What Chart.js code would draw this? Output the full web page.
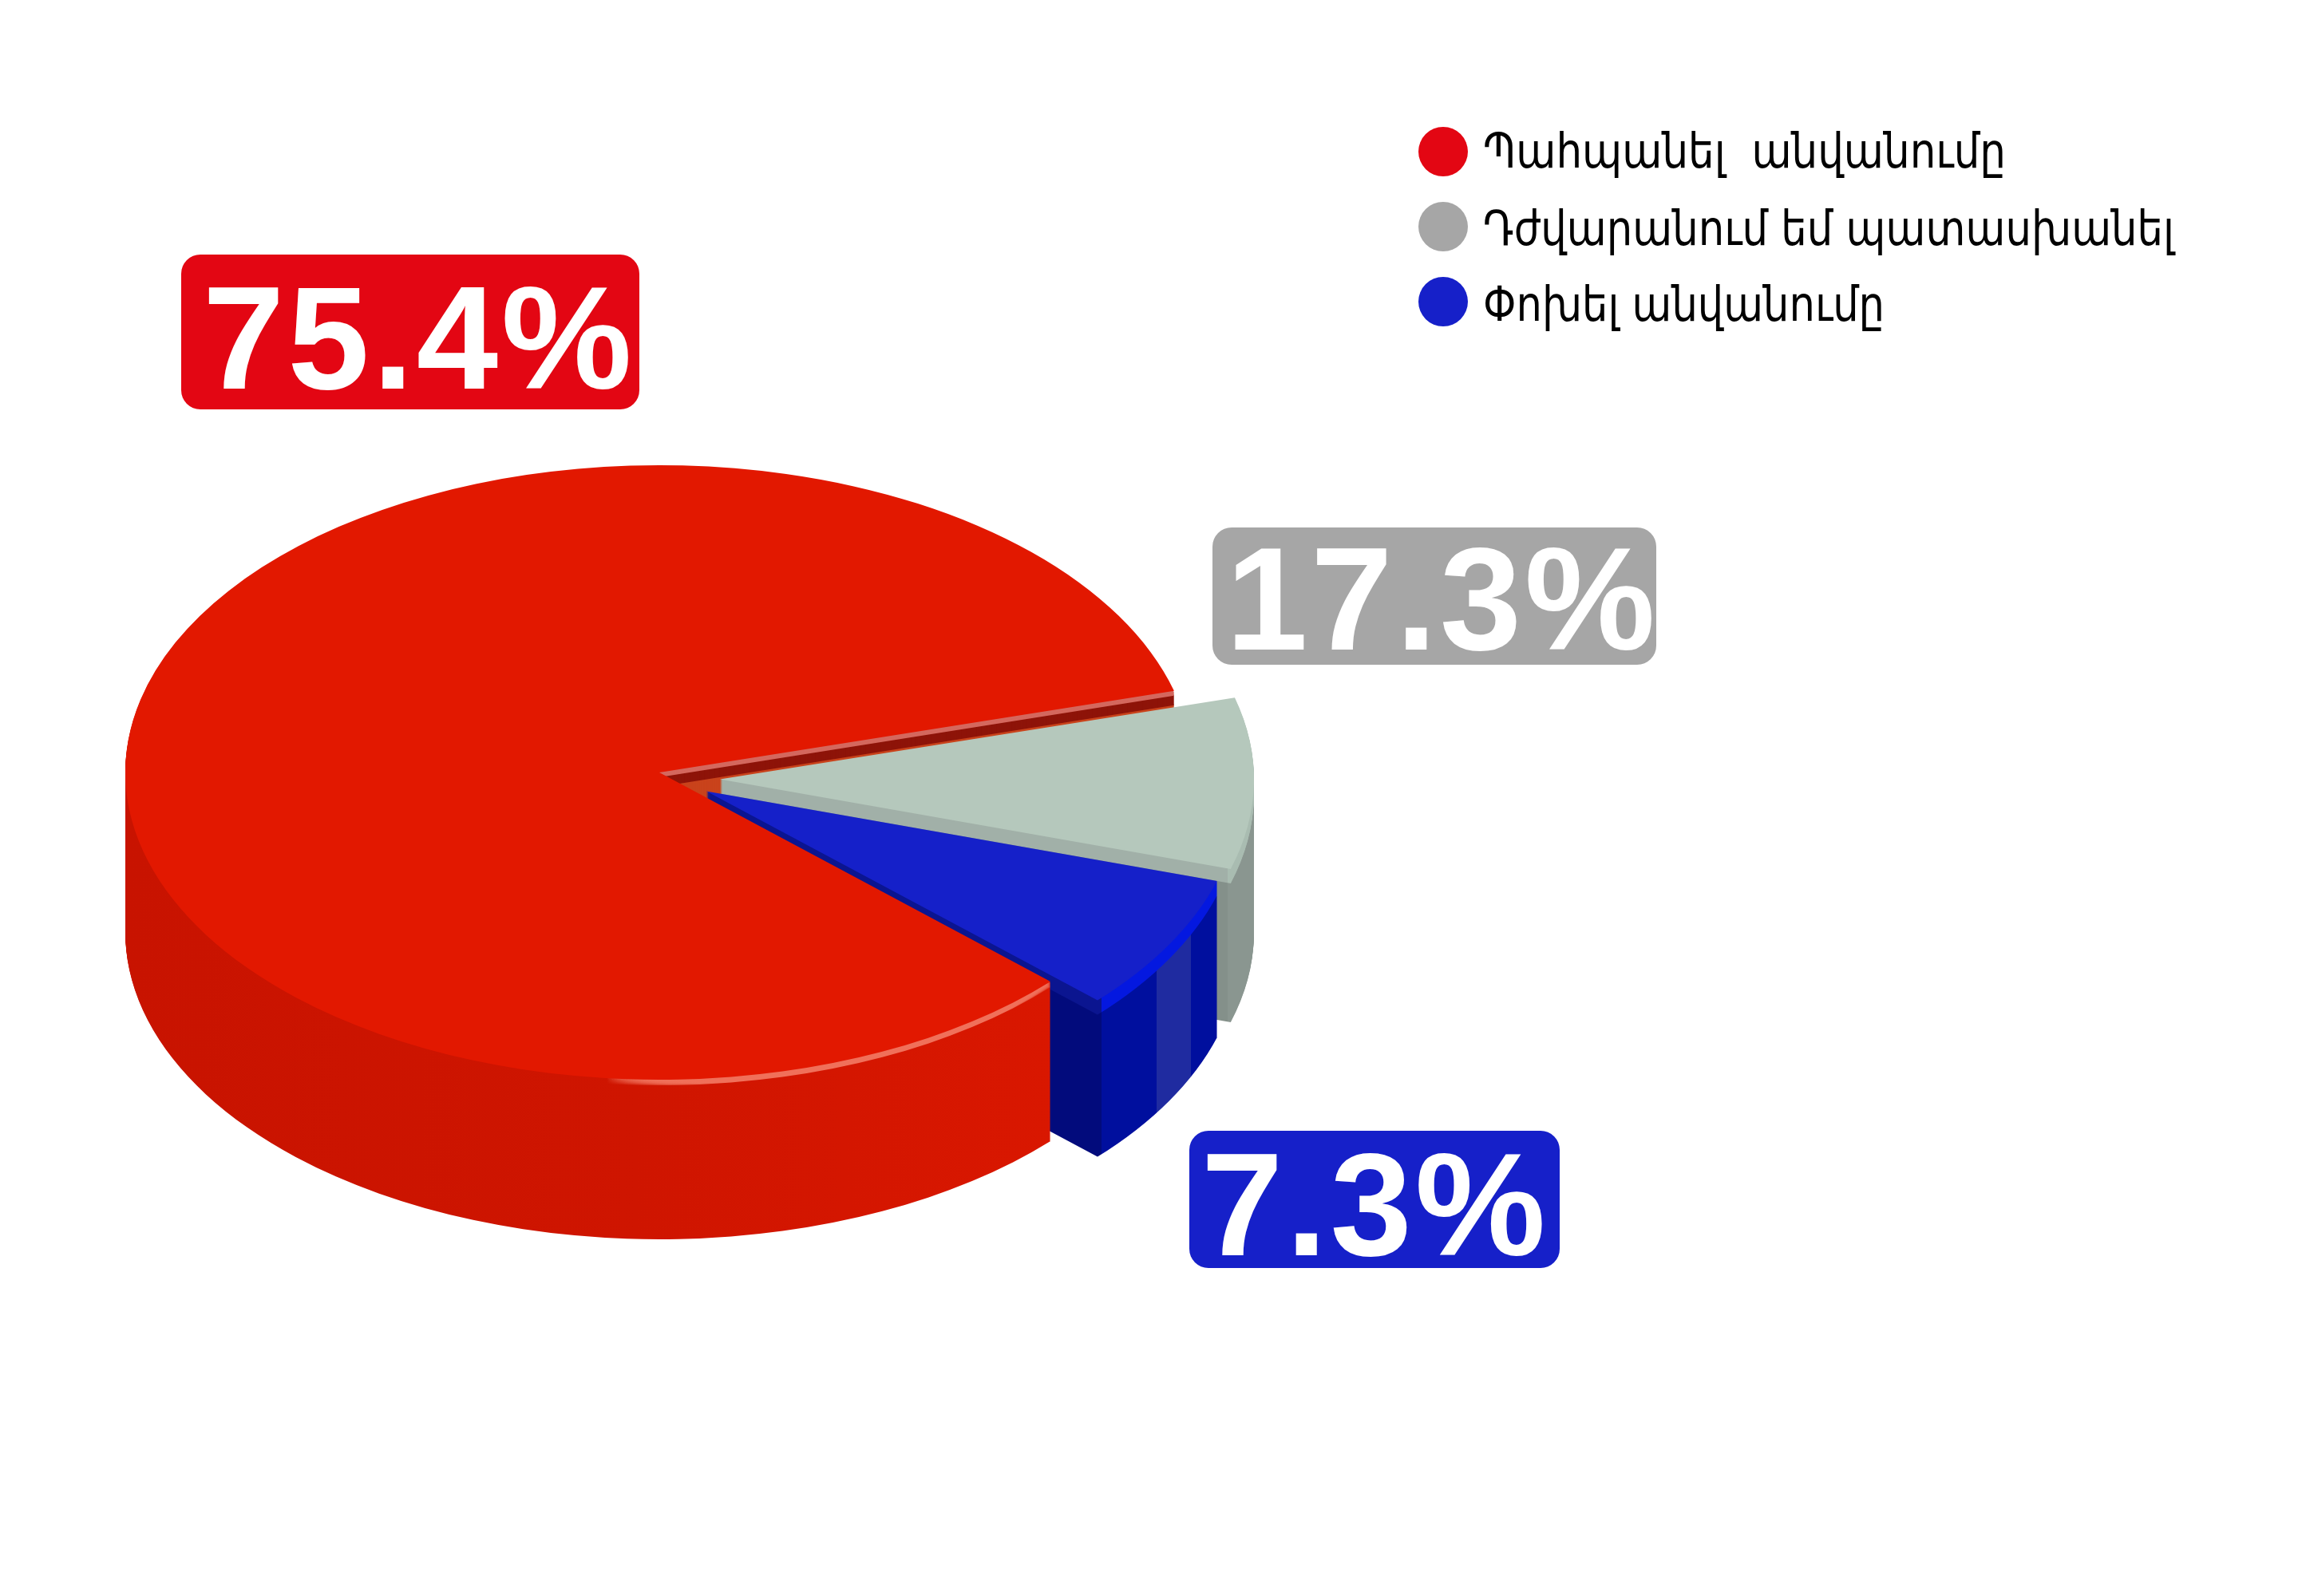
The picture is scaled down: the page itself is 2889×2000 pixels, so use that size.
<!DOCTYPE html>
<html lang="hy">
<head>
<meta charset="utf-8">
<title>Pie</title>
<script src="https://cdn.jsdelivr.net/npm/chart.js@4/dist/chart.umd.min.js"></script>
<style>
    html, body { margin: 0; padding: 0; background: #ffffff; }
    canvas { display: block; }
</style>
</head>
<body>
<canvas id="pieChart" width="2889" height="2000"></canvas>
<script>
const categories = ['Պահպանել  անվանումը', 'Դժվարանում եմ պատասխանել', 'Փոխել անվանումը'];
const printedPercents = [75.4, 17.3, 7.3];
// Wedge sizes. The original wedges are not
// proportional to the percentages printed on them.
const wedgeShares = [83.8, 9.0, 7.2];

const badgeColors = ['#e30613', '#a6a6a6', '#1620c9'];
const topColors = ['#e21800', '#b5c8bc', '#1520c9'];

// Pie geometry
const CX = 826, CY = 968, RX = 669, RY = 385, DEPTH = 200;
const START_ANGLE = 132.9;
const EXPLODE = [0, 76, 68];
const DROP = [0, 8, 4];

const badgeBoxes = [
    { x: 227, y: 319, w: 574, h: 194, textX: 254, baseline: 487 },
    { x: 1519, y: 661, w: 556, h: 172, textX: 1536, baseline: 814 },
    { x: 1490, y: 1417, w: 464, h: 172, textX: 1505, baseline: 1573 }
];
const legendRows = [
    { dotY: 190, baseline: 210, textW: 655 },
    { dotY: 284, baseline: 307, textW: 866 },
    { dotY: 378, baseline: 402, textW: 503 }
];

function hardStops(ctx, dx, stops) {
    // horizontal gradient in page pixels, dx undoes the slice's own shift
    const g = ctx.createLinearGradient(-dx, 0, 2889 - dx, 0);
    stops.forEach(([x, color]) => g.addColorStop(Math.min(Math.max(x / 2889, 0), 1), color));
    return g;
}

function drawLayer(ctx, arc, index, d, fill) {
    const half = (arc.startAngle + arc.endAngle) / 2;
    const saved = arc.options;
    ctx.save();
    ctx.translate(0, CY + DROP[index] + d);
    ctx.scale(1, RY / RX);
    ctx.translate(Math.cos(half) * EXPLODE[index], Math.sin(half) * EXPLODE[index] - arc.y);
    arc.options = { ...saved, backgroundColor: fill, borderWidth: 0 };
    arc.draw(ctx);
    arc.options = saved;
    ctx.restore();
}

function drawStack(ctx, arc, index, from, to, fill) {
    for (let d = from; d >= to; d--) {
        drawLayer(ctx, arc, index, d, fill);
    }
}

const pie3d = {
    id: 'pie3d',
    beforeDatasetsDraw(chart) {
        const ctx = chart.ctx;
        const [red, gray, blue] = chart.getDatasetMeta(0).data;
        const grayDx = Math.cos((gray.startAngle + gray.endAngle) / 2) * EXPLODE[1];
        const blueDx = Math.cos((blue.startAngle + blue.endAngle) / 2) * EXPLODE[2];

        // inside of the red cut, seen through the gap
        ctx.save();
        ctx.beginPath();
        ctx.rect(812, 780, 800, 320);
        ctx.clip();
        drawStack(ctx, red, 0, 60, 18, '#c9431c');
        drawStack(ctx, red, 0, 18, 6, '#8e1409');
        drawStack(ctx, red, 0, 6, 2, '#d4685e');
        ctx.restore();

        // grey slice
        drawStack(ctx, gray, 1, DEPTH - DROP[1], 19, hardStops(ctx, grayDx, [[0, '#84908a'], [1538, '#84908a'], [1538, '#8a9690'], [2889, '#8a9690']]));
        drawStack(ctx, gray, 1, 18, 1, hardStops(ctx, grayDx, [[0, '#a1b0a8'], [1538, '#a1b0a8'], [1538, '#a9bcb1'], [2889, '#a9bcb1']]));
        drawLayer(ctx, gray, 1, 0, topColors[1]);

        // blue slice, the pale stripe is on its outer wall
        drawStack(ctx, blue, 2, DEPTH - DROP[2], 19, hardStops(ctx, blueDx, [
            [0, '#020b7c'], [1380, '#020b7c'], [1380, '#000f9e'], [1449, '#000f9e'],
            [1449, '#1f2ba0'], [1492, '#1f2ba0'], [1492, '#000f9e'], [2889, '#000f9e']
        ]));
        drawStack(ctx, blue, 2, 18, 1, hardStops(ctx, blueDx, [[0, '#0b1590'], [1380, '#0b1590'], [1380, '#0418e0'], [2889, '#0418e0']]));
        drawLayer(ctx, blue, 2, 0, topColors[2]);

        // red walls come last, limited so they stay off the other slices
        ctx.save();
        ctx.beginPath();
        ctx.rect(0, 0, CX, 2000);
        ctx.rect(CX, 1231, 500, 500);
        ctx.clip();
        const wall = ctx.createLinearGradient(157, 0, 1319, 0);
        wall.addColorStop(0, '#c81300');
        wall.addColorStop(0.55, '#cf1500');
        wall.addColorStop(1, '#d91700');
        drawStack(ctx, red, 0, DEPTH, 1, wall);
        const gloss = ctx.createLinearGradient(760, 0, 1319, 0);
        gloss.addColorStop(0, 'rgba(240,112,90,0)');
        gloss.addColorStop(0.25, 'rgba(240,112,90,1)');
        gloss.addColorStop(0.9, 'rgba(240,112,90,1)');
        gloss.addColorStop(1, 'rgba(240,112,90,0.3)');
        drawStack(ctx, red, 0, 7, 1, gloss);
        ctx.restore();
        drawLayer(ctx, red, 0, 0, topColors[0]);

        drawBadges(ctx);
        drawLegend(ctx);
        return false;
    }
};

function drawBadges(ctx) {
    ctx.save();
    ctx.textAlign = 'left';
    ctx.textBaseline = 'alphabetic';
    ctx.font = 'bold 184px "Liberation Sans", Arial, sans-serif';
    ctx.letterSpacing = '4px';
    printedPercents.forEach((value, i) => {
        const box = badgeBoxes[i];
        ctx.fillStyle = badgeColors[i];
        ctx.beginPath();
        ctx.roundRect(box.x, box.y, box.w, box.h, 24);
        ctx.fill();
        ctx.fillStyle = '#ffffff';
        ctx.fillText(value.toFixed(1) + '%', box.textX, box.baseline);
    });
    ctx.restore();
}

function drawLegend(ctx) {
    ctx.save();
    ctx.textAlign = 'left';
    ctx.textBaseline = 'alphabetic';
    ctx.font = '60px "DejaVu Sans", sans-serif';
    categories.forEach((label, i) => {
        const row = legendRows[i];
        ctx.fillStyle = badgeColors[i];
        ctx.beginPath();
        ctx.arc(1808, row.dotY, 31, 0, Math.PI * 2);
        ctx.fill();
        ctx.fillStyle = '#000000';
        ctx.fillText(label, 1858, row.baseline, row.textW);
    });
    ctx.restore();
}

new Chart(document.getElementById('pieChart').getContext('2d'), {
    type: 'pie',
    data: {
        labels: categories,
        datasets: [{
            data: wedgeShares,
            backgroundColor: topColors,
            borderWidth: 0
        }]
    },
    options: {
        responsive: false,
        animation: false,
        rotation: START_ANGLE,
        radius: RX,
        layout: { padding: { right: 2889 - 2 * CX } },
        plugins: {
            legend: { display: false },
            tooltip: { enabled: false }
        }
    },
    plugins: [pie3d]
});
</script>
</body>
</html>
